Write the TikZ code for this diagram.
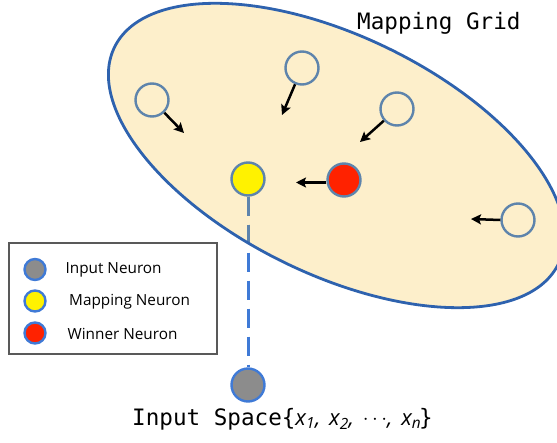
\documentclass[tikz,border=0pt]{standalone}
\usepackage{fontspec}
\setmainfont{Open Sans}
\newfontfamily\monof{DejaVu Sans Mono}
\usetikzlibrary{arrows.meta}
\definecolor{elfill}{HTML}{FDEFCB}
\definecolor{elline}{HTML}{2E62AE}
\definecolor{nline}{HTML}{5E84AC}
\definecolor{bline}{HTML}{3F7AD6}
\definecolor{ngray}{HTML}{8C8C8C}
\definecolor{nyellow}{HTML}{FFF200}
\definecolor{nred}{HTML}{FF2200}
\tikzset{
  neuron/.style={circle,draw=nline,line width=2.4pt,minimum size=33pt,inner sep=0pt},
  legneuron/.style={circle,draw=bline,line width=2.4pt,minimum size=21pt,inner sep=0pt},
  move/.style={line width=2.5pt,-{Stealth[length=10pt,width=10pt,inset=2pt]}},
  legtext/.style={anchor=west,font=\fontsize{15.3}{18}\selectfont,inner sep=0pt},
  link/.style={line width=3pt,dash pattern=on 19pt off 9pt},
  bigtext/.style={anchor=south west,inner sep=0pt,font=\monof\fontsize{22.6}{26}\selectfont}
}
\begin{document}
\begin{tikzpicture}[x=1pt,y=1pt]
\useasboundingbox (0,0) rectangle (557,-443);
% mapping grid ellipse
\coordinate (ec) at (336.5,-155.5);
\fill[elfill,rotate around={-26:(ec)}] (ec) ellipse [x radius=247, y radius=119];
% neurons
\node[neuron] (n1) at (152,-100) {};
\node[neuron] (n2) at (302,-68) {};
\node[neuron] (n3) at (397,-109) {};
\node[neuron] (n4) at (518,-220) {};
\node[neuron,fill=nyellow] (ny) at (248,-179) {};
\node[neuron,fill=nred] (nr) at (344,-180) {};
\node[neuron,draw=bline,fill=ngray] (ng) at (248,-385) {};
\coordinate (t1) at (184,-133);
\coordinate (t2) at (282,-115);
\coordinate (t3) at (360,-142);
\coordinate (t4) at (471,-219);
\coordinate (tr) at (296,-182.5);
\draw[move] (n1) -- (t1);
\draw[move] (n2) -- (t2);
\draw[move] (n3) -- (t3);
\draw[move] (n4.west) -- (t4);
\draw[move] (nr.west |- tr) -- (tr);
% dashed link
\draw[link,bline] (ny.south) -- (ng.north);
\begin{scope}
\clip[rotate around={-26:(ec)}] (ec) ellipse [x radius=247, y radius=119];
\draw[link,nline] (ny.south) -- (ng.north);
\end{scope}
\draw[elline,line width=2.8pt,rotate around={-26:(ec)}] (ec) ellipse [x radius=247, y radius=119];
% titles
\node[bigtext] (title) at (357,-35) {Mapping Grid};
\node[bigtext] (inspace) at (132,-430)
  {Input Space\{{\fontspec{Open Sans}\fontsize{22}{24}\selectfont\itshape x\textsubscript{1},\hspace{3pt} x\textsubscript{2},\hspace{3pt} \raisebox{1pt}{\textbf{$\cdots$}},\hspace{3pt} x\textsubscript{n}}\hspace{-2pt}\}};
% legend
\node[draw=black!65,line width=1.3pt,minimum width=208pt,minimum height=111pt,inner sep=0pt] (leg) at (113,-298.5) {};
\node[legneuron,fill=ngray] (l1) at (35,-269.5) {};
\node[legneuron,fill=nyellow] (l2) at (35,-301) {};
\node[legneuron,fill=nred] (l3) at (35,-333) {};
\node[legtext] (lt1) at (65.5,-270) {Input Neuron};
\node[legtext] (lt2) at (69,-301.5) {Mapping Neuron};
\node[legtext] (lt3) at (67.5,-333.5) {Winner Neuron};
\end{tikzpicture}
\end{document}
